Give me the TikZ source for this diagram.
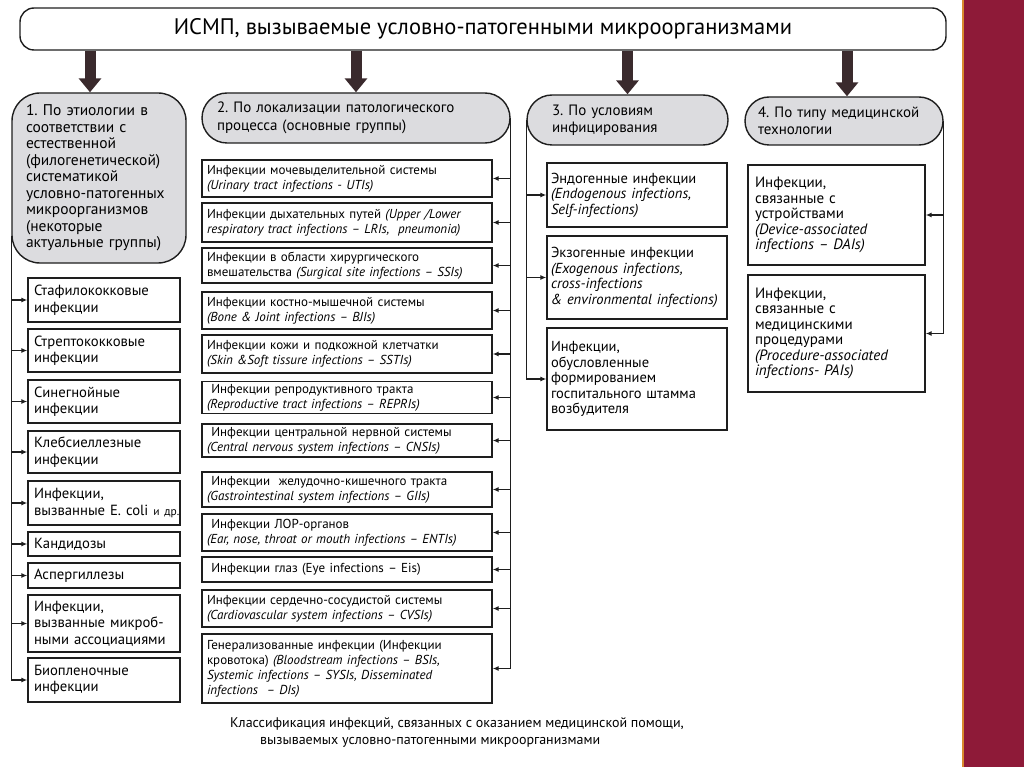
\documentclass[tikz,border=0pt]{standalone}
\usepackage{fontspec}
\setmainfont{PT Sans}
\usetikzlibrary{arrows.meta}
\definecolor{hdrgray}{HTML}{DCDCDF}
\definecolor{inkcol}{HTML}{1E1E1E}
\definecolor{arrowcol}{HTML}{3A2A2D}
\definecolor{barred}{HTML}{8E1A38}
\definecolor{baredge}{HTML}{D98A2E}
\frenchspacing
\begin{document}
\begin{tikzpicture}[x=1pt,y=-1pt,
  topbox/.style={draw=inkcol,line width=1.4pt,rounded corners=14pt,minimum width=926pt,minimum height=42pt,font=\fontsize{22.5}{26}\selectfont},
  headbox/.style={draw=inkcol,line width=1.4pt,fill=hdrgray,align=left},
  leafbox/.style={draw=inkcol,line width=1.4pt,align=left,inner ysep=2pt},
  colA/.style={leafbox,minimum width=152pt,text width=140pt,inner xsep=6pt,font=\fontsize{14.7}{16.5}\selectfont},
  colB/.style={leafbox,minimum width=290pt,text width=280pt,inner xsep=5pt,font=\fontsize{13}{15}\selectfont},
  colC/.style={leafbox,minimum width=180pt,text width=172pt,inner xsep=4pt,font=\fontsize{14.5}{15.5}\selectfont},
  colD/.style={leafbox,minimum width=177pt,text width=163pt,inner xsep=7pt,font=\fontsize{15}{15.5}\selectfont},
  bigarrow/.style={draw=arrowcol,line width=11pt,-{Triangle[length=14pt,width=22pt]}},
  feed/.style={draw=inkcol,line width=1.2pt,-{Latex[length=6pt,width=5pt]}}]
  \useasboundingbox (0,0) rectangle (1024,767);
  % slide edge
  \fill[barred] (963,0) rectangle (1024,767);
  \draw[baredge,line width=2pt] (963,0) -- (963,767);
  %% title and the four groups
  \node (top) at (483,29) [topbox] {ИСМП, вызываемые условно-патогенными микроорганизмами};
  \node (h1) at (99,178) [headbox,rounded corners=28pt,minimum width=174pt,minimum height=170pt,text width=146pt,inner xsep=14pt,font=\fontsize{15.5}{16.5}\selectfont] {1. По этиологии в\\соответствии с\\естественной\\(филогенетической)\\систематикой\\условно-патогенных\\микроорганизмов\\(некоторые\\актуальные группы)};
  \node (h2) at (356,118) [headbox,rounded corners=25pt,minimum width=308pt,minimum height=50pt,text width=278pt,inner xsep=15pt,font=\fontsize{15}{17.5}\selectfont] {2. По локализации патологического\\процесса (основные группы)};
  \node (h3) at (627.5,120) [headbox,rounded corners=25pt,minimum width=201pt,minimum height=50pt,text width=151pt,inner xsep=25pt,font=\fontsize{15}{17}\selectfont] {3. По условиям\\инфицирования};
  \node (h4) at (844,121) [headbox,rounded corners=24pt,minimum width=198pt,minimum height=48pt,text width=172pt,inner xsep=13pt,font=\fontsize{15}{17}\selectfont] {4. По типу медицинской\\технологии};
  \draw[bigarrow] (top.south -| 90,0) -- (h1.north -| 90,0);
  \draw[bigarrow] (top.south -| h2.north) -- (h2.north);
  \draw[bigarrow] (top.south -| h3.north) -- (h3.north);
  \draw[bigarrow] (top.south -| 847,0) -- (h4.north -| 847,0);
  %% column 1
  \node (c1a) at (104,300) [colA,minimum height=44pt] {Стафилококковые\\инфекции};
  \node (c1b) at (104,350.5) [colA,minimum height=43pt] {Стрептококковые\\инфекции};
  \node (c1c) at (104,401.5) [colA,minimum height=43pt] {Синегнойные\\инфекции};
  \node (c1d) at (104,452) [colA,minimum height=42pt] {Клебсиеллезные\\инфекции};
  \node (c1e) at (104,503) [colA,minimum height=44pt] {Инфекции,\\\mbox{вызванные E.~coli {\fontsize{11.5}{14}\selectfont и~др.}}};
  \node (c1f) at (104,544) [colA,minimum height=24pt] {Кандидозы};
  \node (c1g) at (104,575.5) [colA,minimum height=25pt] {Аспергиллезы};
  \node (c1h) at (104,623.5) [colA,minimum height=57pt] {Инфекции,\\вызванные микроб-\\ными ассоциациями};
  \node (c1i) at (104,680) [colA,minimum height=44pt] {Биопленочные\\инфекции};
  \draw[feed] ([yshift=28pt]h1.south west) |- (c1i);
  \foreach \n in {c1a,c1b,c1c,c1d,c1e,c1f,c1g,c1h}
    \draw[feed] (h1.west |- \n) -- (\n);
  %% column 2
  \node (c2a) at (347,178.5) [colB,minimum height=37pt] {Инфекции мочевыделительной системы\\\textit{(Urinary tract infections - UTIs)}};
  \node (c2b) at (347,222.5) [colB,minimum height=39pt] {Инфекции дыхательных путей \textit{(Upper /Lower}\\\textit{respiratory tract infections – LRIs,\ \ pneumonia)}};
  \node (c2c) at (347,265.5) [colB,minimum height=35pt] {Инфекции в области хирургического\\вмешательства \textit{(Surgical site infections – SSIs)}};
  \node (c2d) at (347,310.5) [colB,minimum height=37pt] {Инфекции костно-мышечной системы\\\textit{(Bone \& Joint infections – BJIs)}};
  \node (c2e) at (347,354) [colB,minimum height=38pt] {Инфекции кожи и подкожной клетчатки\\\textit{(Skin \&Soft tissure infections – SSTIs)}};
  \node (c2f) at (347,397.5) [colB,minimum height=32pt] {\ Инфекции репродуктивного тракта\\\textit{(Reproductive tract infections – REPRIs)}};
  \node (c2g) at (347,440.5) [colB,minimum height=33pt] {\ Инфекции центральной нервной системы\\\textit{(Central nervous system infections – CNSIs)}};
  \node (c2h) at (347,489.5) [colB,minimum height=35pt] {\ Инфекции\ \ желудочно-кишечного тракта\\\textit{(Gastrointestinal system infections – GIIs)}};
  \node (c2i) at (347,532.5) [colB,minimum height=37pt] {\ Инфекции ЛОР-органов\\\textit{(Ear, nose, throat or mouth infections – ENTIs)}};
  \node (c2j) at (347,569.5) [colB,minimum height=25pt] {\ Инфекции глаз (Eye infections – Eis)};
  \node (c2k) at (347,608.5) [colB,minimum height=37pt] {Инфекции сердечно-сосудистой системы\\\textit{(Cardiovascular system infections – CVSIs)}};
  \node (c2l) at (347,668.5) [colB,minimum height=69pt] {Генерализованные инфекции (Инфекции\\кровотока) \textit{(Bloodstream infections – BSIs,}\\\textit{Systemic infections – SYSIs, Disseminated}\\\textit{infections\ \ – DIs)}};
  \draw[feed] (h2.east) |- (c2l);
  \foreach \n in {c2a,c2b,c2c,c2d,c2e,c2f,c2g,c2h,c2i,c2j,c2k}
    \draw[feed] (h2.east |- \n) -- (\n);
  %% column 3
  \node (c3a) at (637,195) [colC,minimum height=64pt] {Эндогенные инфекции\\\textit{(Endogenous infections,}\\\textit{Self-infections)}};
  \node (c3b) at (637,277.5) [colC,minimum height=83pt] {Экзогенные инфекции\\\textit{(Exogenous infections,}\\\textit{cross-infections}\\\textit{\& environmental infections)}};
  \node (c3c) at (637,379) [colC,minimum height=102pt] {Инфекции,\\обусловленные\\формированием\\госпитального штамма\\возбудителя};
  \draw[feed] (h3.west) |- (c3c);
  \foreach \n in {c3a,c3b}
    \draw[feed] (h3.west |- \n) -- (\n);
  %% column 4
  \node (c4a) at (836.5,215) [colD,minimum height=100pt] {Инфекции,\\связанные с\\устройствами\\\textit{(Device-associated}\\\textit{infections – DAIs)}};
  \node (c4b) at (836.5,333.5) [colD,minimum height=117pt] {Инфекции,\\связанные с\\медицинскими\\процедурами\\\textit{(Procedure-associated}\\\textit{infections- PAIs)}};
  \draw[feed] (h4.east) |- (c4b);
  \draw[feed] (h4.east |- c4a) -- (c4a);
  %% caption
  \node (cap) at (457,733) [align=left,font=\fontsize{14}{17}\selectfont] {Классификация инфекций, связанных с оказанием медицинской помощи,\\\hspace*{30pt}вызываемых условно-патогенными микроорганизмами};
\end{tikzpicture}
\end{document}
